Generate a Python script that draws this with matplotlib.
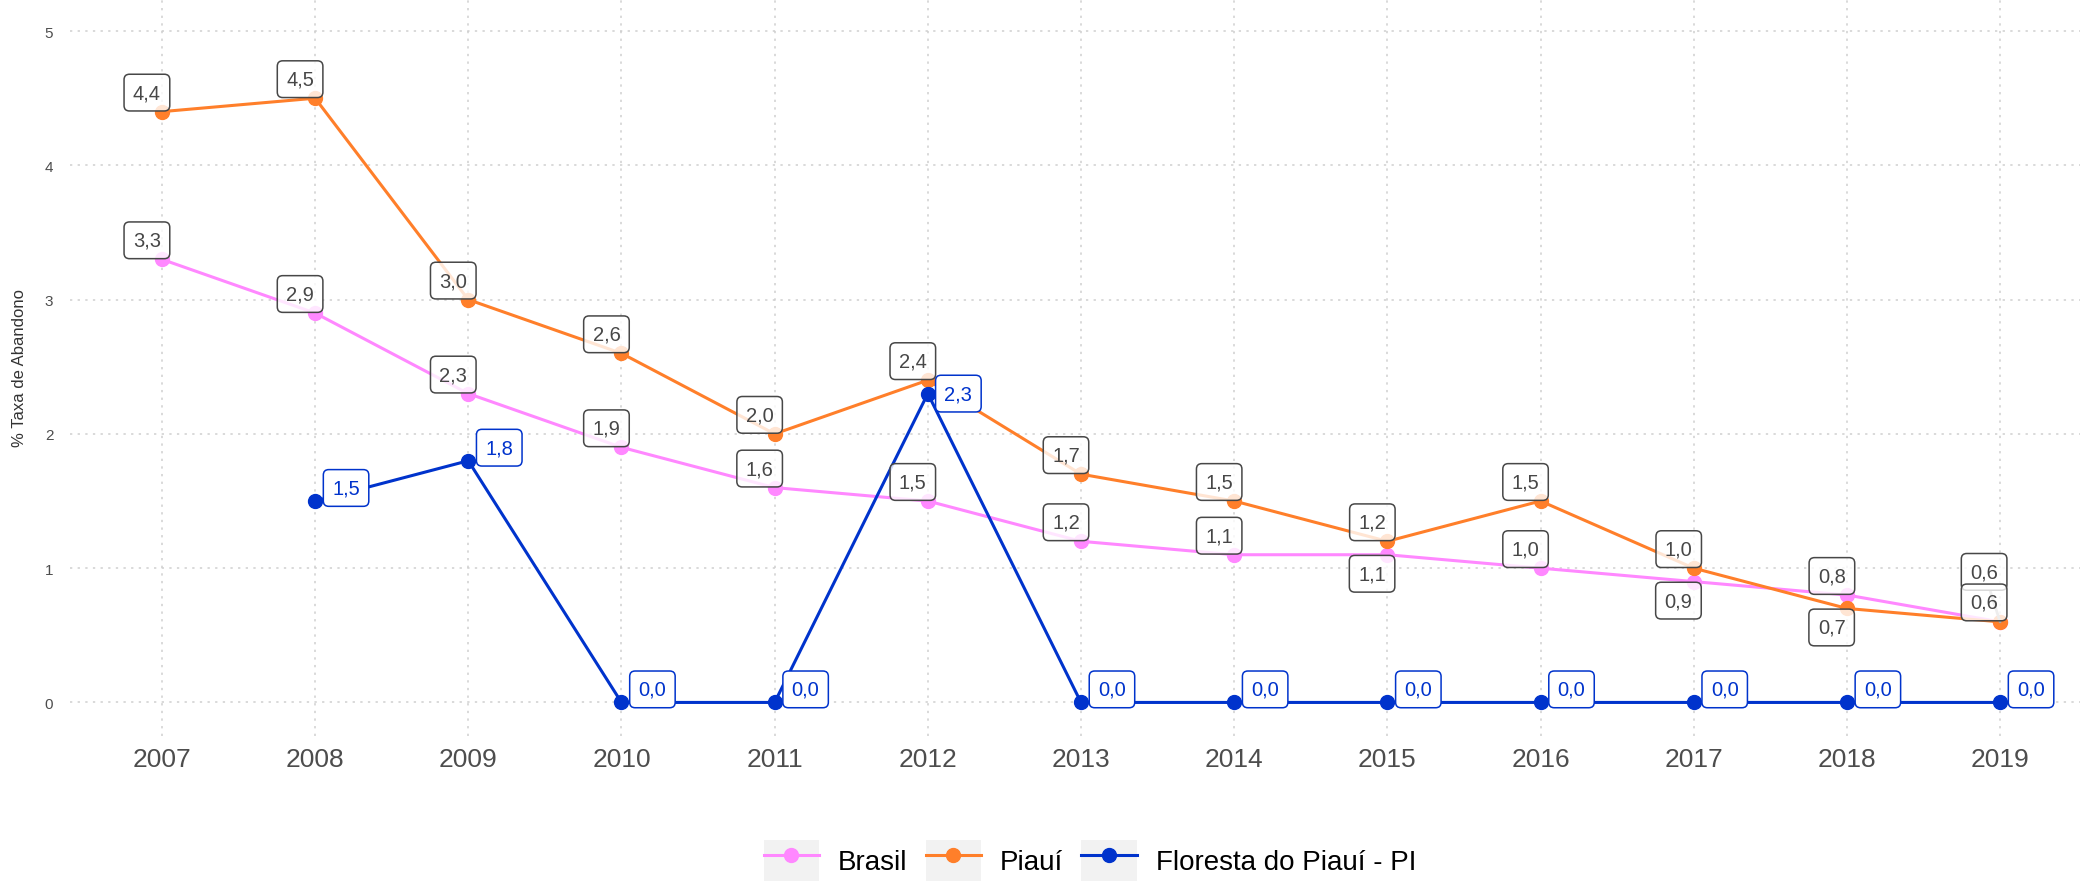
import numpy as np
import matplotlib
matplotlib.use("Agg")
import matplotlib.pyplot as plt
from matplotlib.lines import Line2D
from matplotlib.patches import Rectangle
from matplotlib.legend_handler import HandlerLine2D

plt.rcParams['font.family'] = ['Liberation Sans', 'DejaVu Sans']

# ---- data -------------------------------------------------------------
years = [2007, 2008, 2009, 2010, 2011, 2012, 2013,
         2014, 2015, 2016, 2017, 2018, 2019]
brasil = [3.3, 2.9, 2.3, 1.9, 1.6, 1.5, 1.2, 1.1, 1.1, 1.0, 0.9, 0.8, 0.6]
piaui = [4.4, 4.5, 3.0, 2.6, 2.0, 2.4, 1.7, 1.5, 1.2, 1.5, 1.0, 0.7, 0.6]
floresta = [np.nan, 1.5, 1.8, 0.0, 0.0, 2.3, 0.0, 0.0, 0.0, 0.0, 0.0, 0.0, 0.0]
series_names = ["Brasil", "Piauí", "Floresta do Piauí - PI"]
y_ticks = [0, 1, 2, 3, 4, 5]
y_title = "% Taxa de Abandono"

# ---- styling ----------------------------------------------------------
colors = ["#ff88ff", "#ff7f2a", "#0033cc"]
label_grey = "#474747"
DPI = 100
W, H = 2080, 887

# label offsets (points) : default per series, plus individual placements
default_offset = [(-10.8, 13.7), (-10.8, 13.7), (22.3, 9.4)]
special_offset = {
    (0, 2015): (-11.0, -13.7),
    (0, 2017): (-11.0, -13.7),
    (0, 2019): (-11.5, 36.0),
    (1, 2018): (-11.0, -13.7),
    (1, 2019): (-11.5, 14.0),
    (2, 2012): (22.0, 0.0),
}


def fmt(v):
    return f"{v:.1f}".replace(".", ",")


fig = plt.figure(figsize=(W / DPI, H / DPI), dpi=DPI)
ax_left, ax_right = 70, 2092
ax_bottom, ax_top = 737, -1.5
ax = fig.add_axes([ax_left / W, 1 - ax_bottom / H,
                   (ax_right - ax_left) / W, (ax_bottom - ax_top) / H])

ax.set_xlim(2006.4, 2019.6)
ax.set_ylim(-0.25, 5.25)
for s in ax.spines.values():
    s.set_visible(False)

ax.set_xticks(years)
ax.set_xticklabels([str(y) for y in years], fontsize=19, color="#4d4d4d")
ax.set_yticks(y_ticks)
ax.set_yticklabels([str(t) for t in y_ticks], fontsize=11, color="#4d4d4d")
ax.tick_params(axis="both", length=0)
ax.tick_params(axis="x", pad=8)
ax.tick_params(axis="y", pad=12)
ax.grid(True, color="#cfcfcf", linewidth=1.1, linestyle=(0, (1.5, 3.5)))
ax.set_axisbelow(True)

fig.text(20 / W, 1 - 368 / H, y_title, rotation=90, ha="center", va="center",
         fontsize=12, color="#333333")

all_series = [brasil, piaui, floresta]
for i, vals in enumerate(all_series):
    ax.plot(years, vals, color=colors[i], lw=2.2, marker="o", ms=10,
            zorder=2 + i, solid_capstyle="round")

for i, vals in enumerate(all_series):
    for yr, v in zip(years, vals):
        if np.isnan(v):
            continue
        off = special_offset.get((i, yr), default_offset[i])
        if i < 2:
            tc, ec, fc = label_grey, label_grey, (1, 1, 1, 0.8)
        else:
            tc, ec, fc = colors[2], colors[2], (1, 1, 1, 1)
        kw = {}
        if (i, yr) == (0, 2019):
            kw["arrowprops"] = dict(arrowstyle="-", color="#aaaaaa", lw=2,
                                    shrinkA=0, shrinkB=0)
        ax.annotate(fmt(v), xy=(yr, v),
                    xytext=off, textcoords="offset points",
                    ha="center", va="center", fontsize=14.5, color=tc,
                    bbox=dict(boxstyle="round,pad=0.44,rounding_size=0.27",
                              fc=fc, ec=ec, lw=1.1),
                    zorder=6 + i, **kw)


class KeyHandler(HandlerLine2D):
    def create_artists(self, legend, orig_handle, xdescent, ydescent,
                       width, height, fontsize, trans):
        bg = Rectangle((-xdescent, -ydescent), width, height,
                       facecolor="#f2f2f2", edgecolor="none", transform=trans)
        arts = super().create_artists(legend, orig_handle, xdescent, ydescent,
                                      width, height, fontsize, trans)
        return [bg] + list(arts)


handles = [Line2D([], [], color=c, lw=2.2, marker="o", ms=10) for c in colors]
fig.legend(handles, series_names, loc="center", bbox_to_anchor=(0.524, 0.029),
           ncol=3, frameon=False, fontsize=20, handlelength=2.0,
           handleheight=1.87, handletextpad=0.68, columnspacing=0.65,
           borderpad=0, borderaxespad=0, numpoints=1,
           handler_map={Line2D: KeyHandler()})

fig.savefig("out.png", dpi=DPI)
